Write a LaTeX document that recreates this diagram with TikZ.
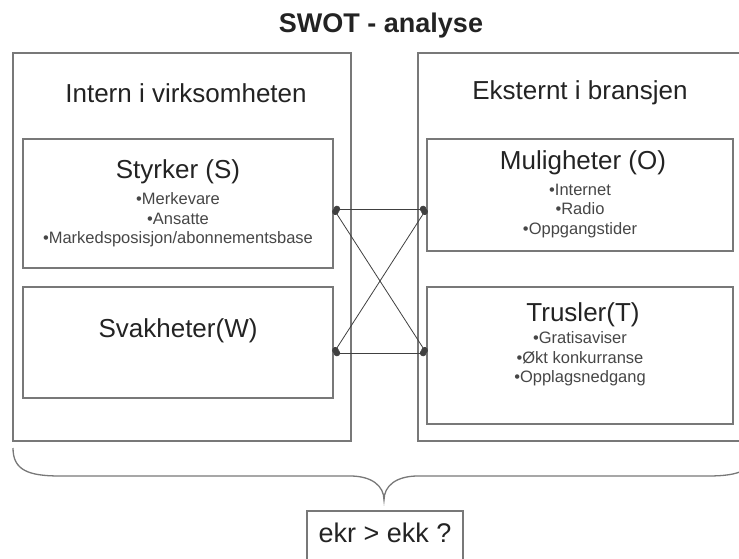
\documentclass[tikz,border=0pt]{standalone}
\usepackage{fontspec}
\setmainfont{Liberation Sans}
\usetikzlibrary{arrows.meta}

\definecolor{linegray}{RGB}{120,120,120}
\definecolor{textgray}{RGB}{35,35,35}
\definecolor{itemgray}{RGB}{70,70,70}

\tikzset{box/.style={draw=linegray, line width=1.3pt, inner sep=0pt}}
\tikzset{link/.style={draw=black!75, line width=0.8pt, {Circle[length=6.5pt]}-{Circle[length=6.5pt]}}}

\newcommand{\headfont}{\fontsize{26}{30}\selectfont}
\newcommand{\itemfont}{\fontsize{16.5}{19.5}\selectfont}

\begin{document}
\begin{tikzpicture}[x=1pt, y=-1pt, every node/.style={text=textgray}, items/.style={align=center, font=\itemfont, text=itemgray, inner sep=0pt}]
			\useasboundingbox (0,0) rectangle (739,559);
			
			\node (title) at (381,26) {\fontsize{27}{30}\selectfont\bfseries SWOT - analyse};
			
			% outer boxes
			\node[box, minimum width=338, minimum height=388] (intern) at (182,247) {};
			\node[box, minimum width=327, minimum height=388] (ekstern) at (581.5,247) {};
			\node (interntxt) at (186,93) {\headfont Intern i virksomheten};
			\node (eksterntxt) at (580,93) {\headfont Eksternt i bransjen};
			
			% inner boxes
			\node[box, minimum width=310, minimum height=129] (S) at (178,203.5) {};
			\node[box, minimum width=310, minimum height=111] (W) at (178,342.5) {};
			\node[box, minimum width=306, minimum height=112] (O) at (580,195) {};
			\node[box, minimum width=306, minimum height=137] (T) at (580,355.5) {};
			
			\node (Stxt) at (178,172) {\headfont Styrker (S)};
			\node[items] (Sitems) at (178,220) {•Merkevare\\ •Ansatte\\ •Markedsposisjon/abonnementsbase};
			\node (Wtxt) at (178,331) {\headfont Svakheter(W)};
			\node (Otxt) at (583,163) {\headfont Muligheter (O)};
			\node[items] (Oitems) at (580,211) {•Internet\\ •Radio\\ •Oppgangstider};
			\node (Ttxt) at (583,315) {\headfont Trusler(T)};
			\node[items] (Titems) at (580,359) {•Gratisaviser\\ •Økt konkurranse\\ •Opplagsnedgang};
			
			\coordinate (s) at ([shift={(0,5.5)}]S.east);
			\coordinate (w) at ([shift={(0,10.5)}]W.east);
			\coordinate (o) at ([shift={(0,14)}]O.west);
			\coordinate (t) at ([shift={(0,-2.5)}]T.west);
			
			\draw[link] (s) -- (o);
			\draw[link] (w) -- (t);
			\draw[link] (s) -- (t);
			\draw[link] (w) -- (o);
			
			% brace
			\draw[draw=linegray, line width=1.3pt] (13,448) .. controls (13,470) and (28,476) .. (60,476) -- (350,476) .. controls (372,476) and (384,486) .. (384,500) .. controls (384,486) and (396,476) .. (418,476) -- (708,476) .. controls (740,476) and (755,470) .. (755,448);
			
			\node[box, minimum width=156, minimum height=54] (ekr) at (385,538) {};
			\node (ekrtxt) at (385,533) {\fontsize{27}{30}\selectfont ekr > ekk ?};
			
		\end{tikzpicture}
\end{document}
